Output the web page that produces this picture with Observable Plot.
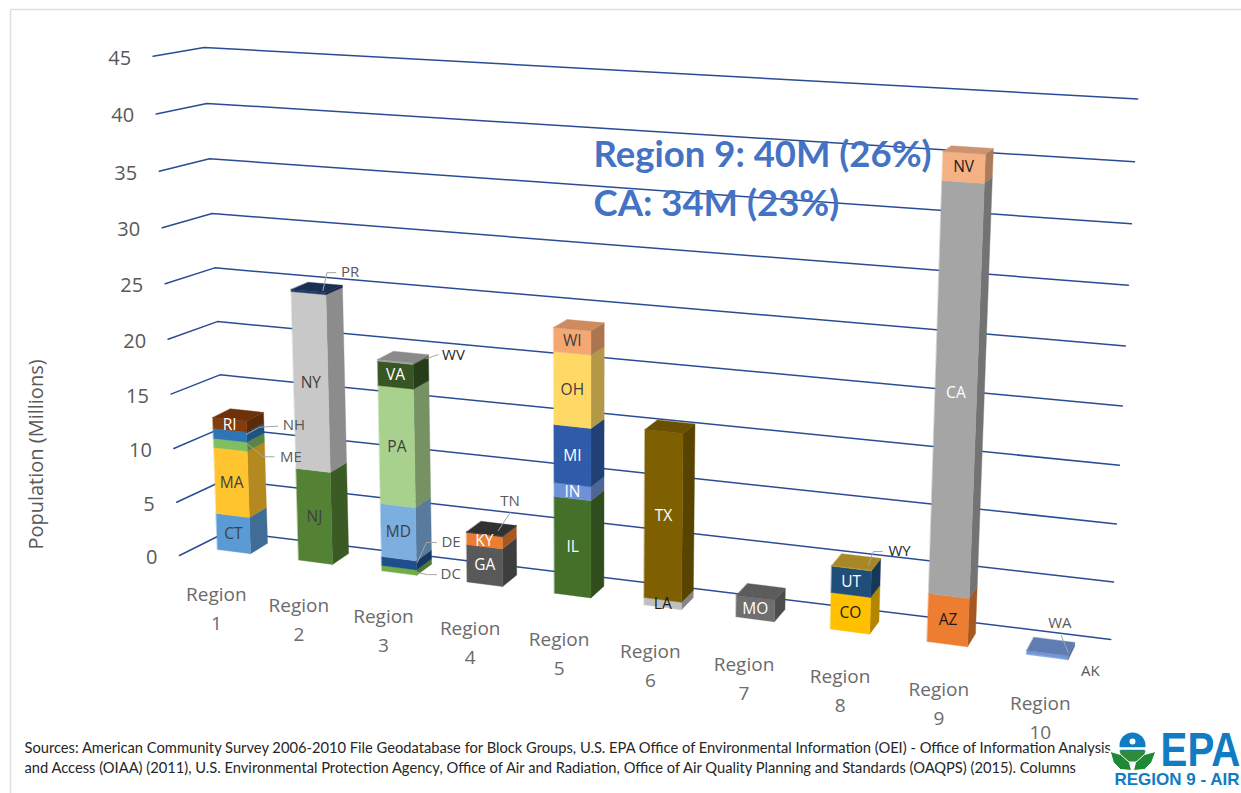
<!DOCTYPE html>
<html><head><meta charset="utf-8">
<style>html,body{margin:0;padding:0;background:#fff;overflow:hidden}svg{display:block}</style>
<script src="https://cdn.jsdelivr.net/npm/d3@7"></script>
<script src="https://cdn.jsdelivr.net/npm/@observablehq/plot@0.6"></script>
</head><body><div id="chart"></div>
<script>
const regionLabels = ["Region\n1","Region\n2","Region\n3","Region\n4","Region\n5","Region\n6","Region\n7","Region\n8","Region\n9","Region\n10"];
const stateNames = [
  ["CT","MA","ME","NH","RI"],["NJ","NY","PR"],["DC","DE","MD","PA","VA","WV"],["GA","KY","TN"],
  ["IL","IN","MI","OH","WI"],["LA","TX"],["MO"],["CO","UT","WY"],["AZ","CA","NV"],["AK","WA"]];
const stateValues = [
  [3.42,6.2,0.85,0.93,1.01],[8.55,16.1,0.2],[0.5,0.83,4.9,10.73,2.2,0.14],[3.43,1.1,0.05],
  [8.73,1.24,5.15,6.39,2.09],[0.66,14.86],[1.9],[3.2,2.3,0.06],[4.16,34.2,2.3],[0.08,0.27]];
const stateColors = [
  ["#5B9BD5","#FFC42E","#7FBF5F","#2E75B6","#843C0C"],["#548235","#C8C8C8","#1F3864"],
  ["#70AD47","#1F4E8C","#7CAFE0","#A9D18E","#375623","#A5A5A5"],["#595959","#ED7D31","#3B3B3B"],
  ["#44702A","#6F91D8","#2F5BA8","#FFD966","#F4A771"],["#BFBFBF","#7F6000"],["#6E6E6E"],
  ["#FFC000","#1F4E79","#C9A22E"],["#ED7D31","#A5A5A5","#F4B183"],["#8FAFE5","#7295D6"]];
const whiteLabelStates = ["RI","VA","GA","KY","IL","IN","MI","TX","MO","UT","CA"];
const blackLabelStates = ["LA","CO","AZ","NV"];
const gridValues = [0,5,10,15,20,25,30,35,40,45];
const sources = [
  "Sources: American Community Survey 2006-2010 File Geodatabase for Block Groups, U.S. EPA Office of Environmental Information (OEI) - Office of Information Analysis",
  "and Access (OIAA) (2011), U.S. Environmental Protection Agency, Office of Air and Radiation, Office of Air Quality Planning and Standards (OAQPS) (2015). Columns"];
const headline = ["Region 9: 40M (26%)","CA: 34M (23%)"];

// leader layouts for the labels beside the bars, in pixels from the bar's right edge
const calloutLayout = {
  NH:{line:[[0,-3],[13,-10],[31,-11]],dx:36,dy:-12,fill:"#595959"},
  ME:{line:[[0,-3],[16,10],[27,10]],dx:33,dy:10,fill:"#595959"},
  PR:{line:[[-3,-3],[1,-21],[10,-21]],dx:15,dy:-21,fill:"#595959"},
  WV:{line:[[13,-5],[25,-9]],dx:29,dy:-9,fill:"#262626"},
  DE:{line:[[1,-3],[10,-23],[20,-23]],dx:25,dy:-23,fill:"#595959"},
  DC:{line:[[1,0],[11,2],[20,2]],dx:24,dy:2,fill:"#595959"},
  TN:{line:[[-4,-6],[8,-24]],dx:-2,dy:-35,fill:"#595959"},
  WY:{line:[[-3,-6],[2,-19],[11,-19]],dx:17,dy:-19,fill:"#262626"},
  WA:{line:[[-7,-22],[0,-5]],dx:-20,dy:-34,fill:"#595959"},
  AK:{line:[],dx:13,dy:12,fill:"#595959"}
};

// Perspective camera: u = region position, d = depth, v = millions
const cam = {x0:217,xu:77.63,xv:-0.59,xd:20.6, y0:549,yu:3.85,yv:-11.05,yd:-3, wu:-0.01195,wv:-0.001,wd:0.01384};
function project(u,d,v){
  const w = 1 + cam.wu*u + cam.wv*v + cam.wd*d;
  return [(cam.x0+cam.xu*u+cam.xv*v+cam.xd*d)/w, (cam.y0+cam.yu*u+cam.yv*v+cam.yd*d)/w];
}
const barWidth = 0.41;
const wall = {frontU:-0.285,frontD:-0.842,backU:-0.209,backD:1.534,endU:9.736,lean:-0.0018,endLift:0.36};

const faces=[], inner=[], leaders=[], outer=[];
const side = c => d3.color(c).darker(1).formatHex();
const top_ = c => d3.color(c).darker(0.5).formatHex();
function face(id,c,corners){ for(const k of corners){ const [px,py]=project(...k); faces.push({id,c,px,py}); } }
stateNames.forEach((names,r)=>{
  let v=0;
  names.forEach((name,i)=>{
    const v1=v+stateValues[r][i], c=stateColors[r][i], u=r, e=r+barWidth;
    face(name+"s",side(c),[[e,0,v],[e,1,v],[e,1,v1],[e,0,v1]]);
    face(name+"f",c,[[u,0,v],[e,0,v],[e,0,v1],[u,0,v1]]);
    if(i===names.length-1) face(name+"t",top_(c),[[u,0,v1],[e,0,v1],[e,1,v1],[u,1,v1]]);
    const mid=(v+v1)/2, layout=calloutLayout[name];
    if(layout){
      const [ax,ay]=project(e,0,mid);
      layout.line.forEach(([dx,dy])=>leaders.push({name,px:ax+dx,py:ay+dy}));
      outer.push({name,px:ax+layout.dx,py:ay+layout.dy,fill:layout.fill});
    } else {
      const [px,py]=project(r+barWidth/2,0,mid);
      inner.push({name,px,py,fill:whiteLabelStates.includes(name)?"#fff":blackLabelStates.includes(name)?"#1a1a1a":"#404040"});
    }
    v=v1;
  });
});
const grid=gridValues.flatMap(g=>[
    [wall.frontU+wall.lean*g,wall.frontD,g],
    [wall.backU+wall.lean*g,wall.backD,g],
    [wall.endU,wall.backD,g+wall.endLift*(1-g/45)]
  ].map(k=>{const [px,py]=project(...k);return {g,px,py};}));
const ticks=gridValues.map(g=>{const [px,py]=project(wall.frontU+wall.lean*g,wall.frontD,g);return {g,px,py};});
const regionPts=regionLabels.map((t,r)=>{const [px,py]=project(r+barWidth/2,-1,0);return {t,px,py};});

const font="Open Sans";
const svg=Plot.plot({
  width:1241,height:793,margin:0,
  x:{domain:[0,1241],range:[0,1241],axis:null},
  y:{domain:[0,793],range:[0,793],axis:null},
  color:{type:"identity"},
  style:{fontFamily:font,background:"#fff"},
  marks:[
    Plot.line([{px:10,py:793},{px:10,py:9},{px:1241,py:9}],{x:"px",y:"py",stroke:"#e0e0e0",strokeWidth:1.5}),
    Plot.line(grid,{x:"px",y:"py",z:"g",stroke:"#2A4C94",strokeWidth:1.5}),
    Plot.line(faces,{x:"px",y:"py",z:"id",fill:"c",stroke:"c",strokeWidth:0.4,curve:"linear-closed"}),
    Plot.line(leaders,{x:"px",y:"py",z:"name",stroke:"#a6a6a6",strokeWidth:1}),
    Plot.text(inner,{x:"px",y:"py",text:"name",fill:"fill",fontSize:15.5}),
    Plot.text(outer,{x:"px",y:"py",text:"name",fill:"fill",fontSize:15,textAnchor:"start"}),
    Plot.text(ticks,{x:"px",y:"py",text:"g",dx:-22,dy:2,textAnchor:"end",fill:"#595959",fontSize:20}),
    Plot.text(regionPts,{x:"px",y:"py",text:"t",dy:44,lineAnchor:"middle",textAnchor:"middle",fill:"#6b6b6b",fontSize:19,lineHeight:1.52}),
    Plot.text(["Population (Millions)"],{x:()=>36,y:()=>454,text:d=>d,rotate:-90,fill:"#595959",fontSize:20}),
    Plot.text(headline,{x:()=>593,y:(d,i)=>[155,204][i],text:d=>d,textAnchor:"start",fill:"#4472C4",fontSize:36.5,fontWeight:"bold",fontFamily:"Lato"}),
    Plot.text(sources,{x:()=>24,y:(d,i)=>[748,768][i],text:d=>d,textAnchor:"start",fill:"#262626",fontSize:14.7,fontFamily:"Lato"}),
    // EPA logo
    Plot.line([[1108,750],[1160,750],[1160,772],[1108,772]],{x:d=>d[0],y:d=>d[1],fill:"#fff",stroke:"none",curve:"linear-closed"}),
    Plot.dot([0],{x:()=>1132,y:()=>745,r:13,fill:"#0F7CC4"}),
    Plot.line([[1116,748],[1148,748]],{x:d=>d[0],y:d=>d[1],stroke:"#fff",strokeWidth:2.5}),
    Plot.line([[1119,750],[1145,750],[1143,757],[1136,761],[1128,761],[1121,757]],{x:d=>d[0],y:d=>d[1],fill:"#2E8B3A",stroke:"none",curve:"linear-closed"}),
    Plot.line([[1110,751],[1120,754],[1129,762],[1131,770],[1120,769],[1113,762]],{x:d=>d[0],y:d=>d[1],fill:"#1E8A35",stroke:"#fff",strokeWidth:1,curve:"linear-closed"}),
    Plot.line([[1155,751],[1144,754],[1135,762],[1133,770],[1144,769],[1151,762]],{x:d=>d[0],y:d=>d[1],fill:"#1E8A35",stroke:"#fff",strokeWidth:1,curve:"linear-closed"}),
    Plot.dot([0],{x:()=>1132,y:()=>741,r:3,fill:"#fff"}),
    Plot.text(["EPA"],{x:()=>1160,y:()=>750,text:d=>d,textAnchor:"start",fill:"#0F7CC4",fontSize:48,fontWeight:"bold",fontFamily:"Liberation Sans",className:"epa-word"}),
    Plot.text(["REGION 9 - AIR"],{x:()=>1114,y:()=>779,text:d=>d,textAnchor:"start",fill:"#0F7CC4",fontSize:17,fontWeight:"bold",fontFamily:"Liberation Sans"})
  ]
});
// the logotype is condensed horizontally
svg.querySelectorAll(".epa-word text").forEach(t=>t.setAttribute("transform",(t.getAttribute("transform")||"")+" scale(0.84,1)"));
document.getElementById("chart").append(svg);
</script></body></html>
